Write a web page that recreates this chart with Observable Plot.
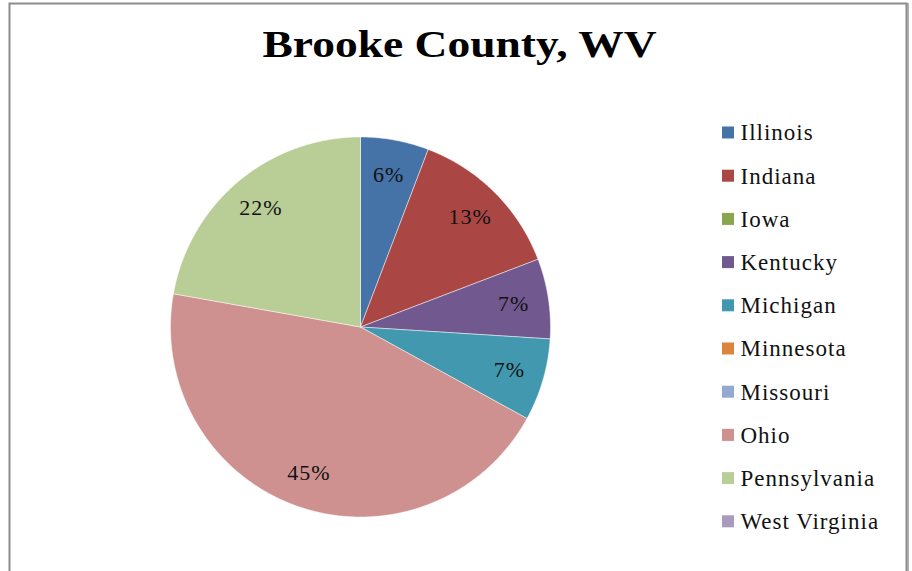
<!DOCTYPE html>
<html>
<head>
<meta charset="utf-8">
<script src="https://cdn.jsdelivr.net/npm/d3@7"></script>
<script src="https://cdn.jsdelivr.net/npm/@observablehq/plot@0.6"></script>
<style>
  html, body { margin: 0; padding: 0; background: #fff; }
  #chart svg { display: block; }
  #chart svg, #chart svg text { font-family: "Liberation Serif", "DejaVu Serif", "Times New Roman", serif !important; }
  #chart g.lbl text { letter-spacing: 1px; }
  #chart g.leg text { letter-spacing: 1px; }
</style>
</head>
<body>
<div id="chart"></div>
<script>
// ---- data ----
const title = "Brooke County, WV";
const states = ["Illinois", "Indiana", "Iowa", "Kentucky", "Michigan", "Minnesota", "Missouri", "Ohio", "Pennsylvania", "West Virginia"];
const shares = [5.8, 13.4, 0, 6.8, 7.0, 0, 0, 44.8, 22.2, 0];
const colors = ["#4572A7", "#AA4643", "#89A54E", "#71588F", "#4198AF", "#DB843D", "#93A9CF", "#CE9190", "#B9CD96", "#A99BBD"];

// ---- layout constants ----
const W = 912, H = 571;
const cx = 360, cy = 326.5, R = 190, labelR = 155;
const legendX = 722, legendTextX = 740, legendY0 = 132.5, legendStep = 43.2, sq = 12;

// ---- derived geometry (from data) ----
const total = d3.sum(shares);
const slices = [];
let cum = 0;
states.forEach((s, i) => {
  const v = shares[i];
  const a0 = cum / total * 2 * Math.PI;
  cum += v;
  const a1 = cum / total * 2 * Math.PI;
  if (v > 0) slices.push({state: s, value: v, a0, a1, i});
});
const piePts = [];
for (const sl of slices) {
  piePts.push({state: sl.state, x: cx, y: cy});
  const n = Math.max(2, Math.ceil((sl.a1 - sl.a0) / (Math.PI / 360)));
  for (let k = 0; k <= n; k++) {
    const a = sl.a0 + (sl.a1 - sl.a0) * k / n;
    piePts.push({state: sl.state, x: cx + R * Math.sin(a), y: cy - R * Math.cos(a)});
  }
  piePts.push({state: sl.state, x: cx, y: cy});
}
const labels = slices.map(sl => {
  const m = (sl.a0 + sl.a1) / 2;
  return {x: cx + labelR * Math.sin(m), y: cy - labelR * Math.cos(m), text: Math.round(sl.value) + "%"};
});
const legend = states.map((s, i) => ({state: s, y: legendY0 + i * legendStep}));

const chart = Plot.plot({
  width: W,
  height: H,
  margin: 0,
  style: {background: "#fff"},
  x: {domain: [0, W], range: [0, W], axis: null},
  y: {domain: [0, H], range: [0, H], axis: null},
  color: {domain: states, range: colors, type: "ordinal"},
  marks: [
    // outer chart border
    Plot.rect([0], {x1: () => 9.5, x2: () => 906.5, y1: () => 3.5, y2: () => 580, fill: "none", stroke: "#8c8c8c", strokeWidth: 2}),
    Plot.ruleX([0], {x: () => 907.5, y1: () => 3, y2: () => 580, stroke: "#9a9a9a", strokeWidth: 1.5}),
    // pie slices
    Plot.line(piePts, {x: "x", y: "y", z: "state", fill: "state", stroke: "#ffffff", strokeOpacity: 0.6, strokeWidth: 0.8, curve: "linear"}),
    // slice labels
    Plot.text(labels, {x: "x", y: "y", text: "text", fontSize: 22, fill: "#111", textAnchor: "middle", lineAnchor: "middle", className: "lbl"}),
    // title
    Plot.text([title], {x: () => 459, y: () => 45, text: d => d, fontSize: 37, fontWeight: "bold", fill: "#000", textAnchor: "middle", lineAnchor: "middle", className: "ttl"}),
    // legend
    Plot.rect(legend, {x1: () => legendX, x2: () => legendX + sq, y1: d => d.y - sq / 2, y2: d => d.y + sq / 2, fill: "state"}),
    Plot.text(legend, {x: () => legendTextX, y: "y", text: "state", fontSize: 23, fill: "#111", textAnchor: "start", lineAnchor: "middle", className: "leg"})
  ]
});
// stretch the title glyphs horizontally, as in the reference rendering
chart.querySelectorAll("g.ttl text").forEach(t => {
  t.setAttribute("textLength", 394);
  t.setAttribute("lengthAdjust", "spacingAndGlyphs");
});
document.getElementById("chart").appendChild(chart);
</script>
</body>
</html>
